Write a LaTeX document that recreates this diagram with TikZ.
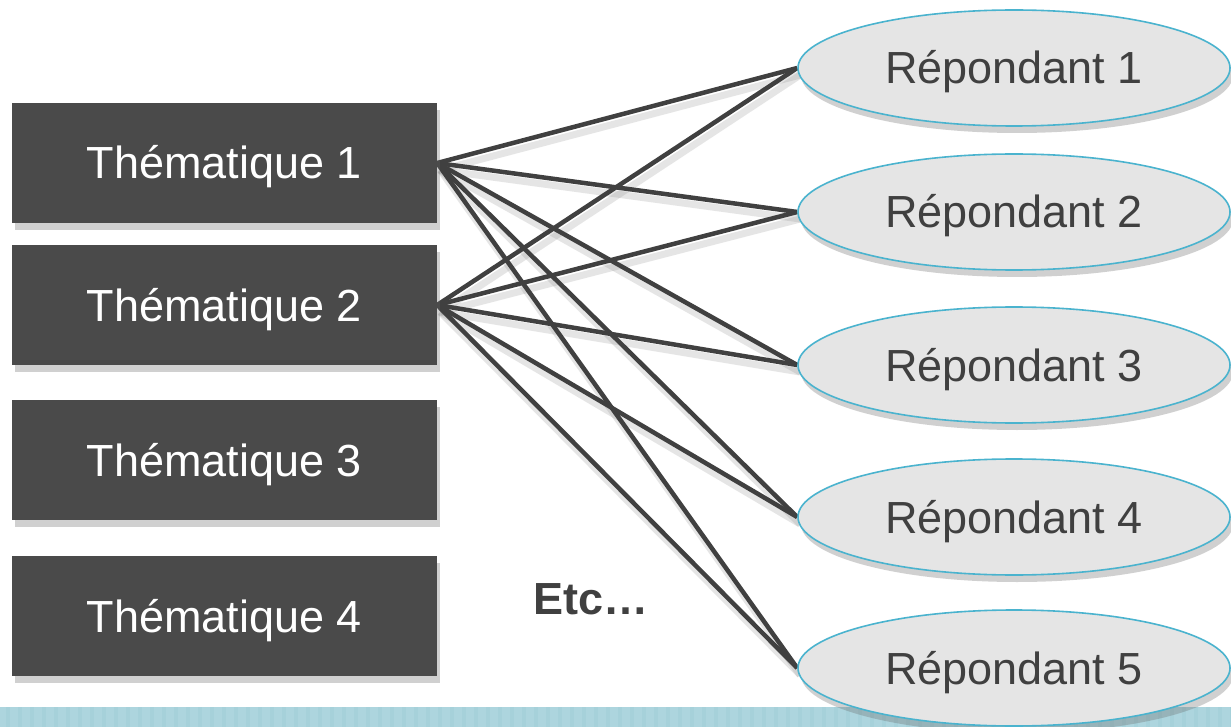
\documentclass[tikz,border=0pt]{standalone}
\usepackage{fontspec}
\setmainfont{Liberation Sans}
\usetikzlibrary{shapes.geometric,shadows}
\pgfdeclarelayer{bottom}
\pgfdeclarelayer{lines}
\pgfsetlayers{bottom,lines,main}
\definecolor{boxfill}{HTML}{4A4A4A}
\definecolor{ellfill}{HTML}{E5E5E5}
\definecolor{ellline}{HTML}{4AB3CE}
\definecolor{linecol}{HTML}{404040}
\definecolor{txtcol}{HTML}{404040}
\definecolor{stripcol}{HTML}{ADD5DE}
\definecolor{stripdark}{HTML}{A6D1DA}
\tikzset{
  thembox/.style={rectangle, fill=boxfill, draw=none, minimum width=425pt, minimum height=120pt,
    inner sep=0pt, text=white, font=\fontsize{45}{54}\selectfont, text height=32pt, text depth=0pt,
    drop shadow={shadow xshift=3pt, shadow yshift=-7pt, fill=black!60, opacity=.3}},
  respell/.style={ellipse, fill=ellfill, draw=ellline, line width=1.6pt, minimum width=432pt,
    minimum height=116pt, inner sep=0pt, text=txtcol, font=\fontsize{45}{54}\selectfont,
    text height=32pt, text depth=0pt,
    drop shadow={shadow xshift=3pt, shadow yshift=-7pt, fill=black!60, opacity=.3}},
  conn/.style={draw=linecol, line width=4.5pt},
  connshadow/.style={draw=black!45, opacity=.22, line width=7pt},
  etcstyle/.style={text=txtcol, font=\fontsize{45}{54}\selectfont\bfseries, inner sep=0pt}
}
\begin{document}
\begin{tikzpicture}[x=1pt,y=-1pt]
\useasboundingbox (0,0) rectangle (1231,727);
\begin{pgfonlayer}{bottom}
\fill[white] (0,0) rectangle (1231,727);
\end{pgfonlayer}
% bottom strip
\fill[stripcol] (0,707) rectangle (1231,727);
\foreach \i in {0,...,102} {
  \fill[stripdark] ({\i*12+6},707) rectangle ({\i*12+10},727);
}
% left boxes
\node[thembox] (T1) at (224.5,163) {Thématique 1};
\node[thembox] (T2) at (224.5,305) {Thématique 2};
\node[thembox] (T3) at (224.5,460) {Thématique 3};
\node[thembox] (T4) at (224.5,616) {Thématique 4};
% right ellipses
\node[respell] (R1) at (1014,68) {Répondant 1};
\node[respell] (R2) at (1014,212) {Répondant 2};
\node[respell] (R3) at (1014,365) {Répondant 3};
\node[respell] (R4) at (1014,517) {Répondant 4};
\node[respell] (R5) at (1014,668) {Répondant 5};
% etc
\node[etcstyle, anchor=base west] (etc) at (533,614) {Etc…};
% connectors
\begin{pgfonlayer}{lines}
\foreach \s in {T1,T2} {
  \foreach \t in {R1,R2,R3,R4,R5} {
    \draw[connshadow] ([shift={(3,7)}]\s.east) -- ([shift={(3,7)}]\t.west);
  }
}
\foreach \s in {T1,T2} {
  \foreach \t in {R1,R2,R3,R4,R5} {
    \draw[conn] (\s.east) -- (\t.west);
  }
}
\end{pgfonlayer}
\end{tikzpicture}
\end{document}
